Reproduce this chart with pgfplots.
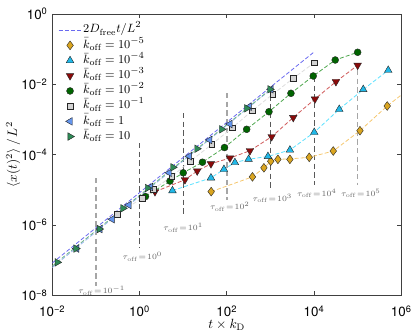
\documentclass[border=0pt]{standalone}
\usepackage{fontspec}
\usepackage{pgfplots}
\pgfplotsset{compat=1.18}
\newfontfamily\hv{TeX Gyre Heros}
\newcommand{\tl}[1]{{\hv 10\textsuperscript{#1}}}

\definecolor{cOr}{HTML}{DAA520}
\definecolor{cCy}{HTML}{20B8E8}
\definecolor{cRd}{HTML}{8B0A0A}
\definecolor{cGn}{HTML}{006400}
\definecolor{cSq}{HTML}{D3D3D3}
\definecolor{cBl}{HTML}{6495ED}
\definecolor{cSg}{HTML}{2E8B57}
\definecolor{dOr}{HTML}{F5C76E}
\definecolor{dCy}{HTML}{5CE1FF}
\definecolor{dRd}{HTML}{D05A5A}
\definecolor{dGn}{HTML}{4CA64C}
\definecolor{dSq}{HTML}{DDDDDD}
\definecolor{dBl}{HTML}{9DB6F2}
\definecolor{dSg}{HTML}{6DB38A}
\definecolor{dFr}{HTML}{6A6AF0}

\pgfplotsset{
  dsh/.style={line width=0.6pt, dash pattern=on 3pt off 1.6pt, forget plot},
  vdark/.style={black!65, line width=0.6pt, dash pattern=on 4pt off 2.5pt, forget plot},
  vlight/.style={black!35, line width=1.2pt, dash pattern=on 4pt off 2.5pt, forget plot},
}

\begin{document}
\begin{tikzpicture}
\begin{axis}[
  scale only axis, width=261.75pt, height=211pt,
  xmode=log, ymode=log,
  xmin=1e-2, xmax=1e6, ymin=1e-8, ymax=1,
  xtick={1e-2,1,1e2,1e4,1e6},
  xticklabels={\tl{−2},\tl{0},\tl{2},\tl{4},\tl{6}},
  ytick={1e-8,1e-6,1e-4,1e-2,1},
  yticklabels={\tl{−8},\tl{−6},\tl{−4},\tl{−2},\tl{0}},
  xticklabel style={yshift=-4pt},
  minor tick length=0pt,
  tick align=inside, major tick length=3pt,
  axis line style={black!75, line width=0.6pt},
  tick style={black!75, line width=0.6pt},
  xlabel={$t\times k_{\mathrm{D}}$},
  ylabel={$\langle x(t)^2\rangle\,/\,L^2$},
  xlabel shift=-5pt,
  ylabel shift=-6pt,
  legend style={draw=none, fill=none, at={(0.005,0.98)}, anchor=north west,
    row sep=0pt, font=\fontsize{9.5}{11}\selectfont,
    nodes={text height=6.8pt, text depth=2.6pt, inner sep=1pt}},
  legend cell align=left,
]
% tau_off markers
\addplot[vlight] coordinates {(0.1,2.17e-5) (0.1,1.84e-8)};
\addplot[vdark]  coordinates {(1,2.14e-4) (1,2.21e-7)};
\addplot[vdark]  coordinates {(10,1.53e-3) (10,1.86e-6)};
\addplot[vlight] coordinates {(100,5.66e-3) (100,5.13e-6)};
\addplot[vdark]  coordinates {(1000,8.39e-3) (1000,9.86e-6)};
\addplot[vdark]  coordinates {(10000,1.61e-2) (10000,1.37e-5)};
\addplot[vlight] coordinates {(100000,2.55e-2) (100000,1.37e-5)};

% free diffusion
\addplot[dFr, line width=0.6pt, dash pattern=on 3pt off 1.6pt] coordinates {(1e-2,8.3e-8) (1e4,8.3e-2)};
\addlegendentry{$2D_{\mathrm{free}}t/L^2$}

% theory curves
\addplot[dsh, dOr] coordinates {(43.9,8.89e-6) (388,2.34e-5) (711,4.23e-5) (1019,6.50e-5) (1489,7.36e-5) (2805,7.6e-5) (7762,8.39e-5) (27610,1.27e-4) (113000,4.80e-4) (476400,2.42e-3) (1e6,4.97e-3)};
\addplot[dsh, dCy] coordinates {(5.69,9.48e-6) (43.4,2.19e-5) (86.1,3.83e-5) (153.8,5.97e-5) (316.7,7.41e-5) (879,8.91e-5) (2805,1.355e-4) (10120,4.32e-4) (37840,1.95e-3) (134300,7.13e-3) (502300,2.51e-2)};
\addplot[dsh, dRd] coordinates {(2.26,8.83e-6) (10.99,1.936e-5) (21.0,3.43e-5) (43.4,5.50e-5) (118.3,8.02e-5) (339.6,1.294e-4) (1069,3.24e-4) (3342,1.138e-3) (10500,3.82e-3) (31770,1.189e-2) (1e5,3.48e-2)};
\addplot[dsh, dGn] coordinates {(1.368,6.44e-6) (4.99,1.778e-5) (10.05,3.05e-5) (27.7,6.10e-5) (88.5,1.596e-4) (285.8,5.26e-4) (927,1.663e-3) (2958,5.56e-3) (9594,1.726e-2) (30620,4.92e-2) (1e5,8.15e-2)};
\addplot[dsh, dSq] coordinates {(0.312,2.01e-6) (1.138,5.85e-6) (2.065,1.033e-5) (5.46,2.39e-5) (14.72,6.59e-5) (45.0,1.941e-4) (133.7,5.83e-4) (383.7,1.778e-3) (1127,5.20e-3) (3342,1.483e-2) (10120,4.12e-2)};
\addplot[dsh, dBl] coordinates {(1e-2,6.2e-8) (1030,7.2e-3)};
\addplot[dsh, dSg] coordinates {(1e-2,6.8e-8) (1000,7.2e-3)};

% simulation data
\addplot[only marks, mark=diamond*, mark size=3.3pt, mark options={draw=black!85, line width=0.3pt, fill=cOr}] coordinates {(43.9,8.89e-6) (388,2.34e-5) (711,4.23e-5) (1019,6.50e-5) (1489,7.36e-5) (2805,7.36e-5) (7762,8.39e-5) (27610,1.27e-4) (113000,4.80e-4) (476400,2.42e-3)};
\addlegendentry{$\bar{k}_{\mathrm{off}}=10^{-5}$}
\addplot[only marks, mark=triangle*, mark size=3.3pt, mark options={draw=black!85, line width=0.3pt, fill=cCy}] coordinates {(5.69,9.48e-6) (43.4,2.19e-5) (86.1,3.83e-5) (153.8,5.97e-5) (316.7,7.41e-5) (879,8.91e-5) (2805,1.355e-4) (10120,4.32e-4) (37840,1.95e-3) (134300,7.13e-3) (502300,2.51e-2)};
\addlegendentry{$\bar{k}_{\mathrm{off}}=10^{-4}$}
\addplot[only marks, mark=triangle*, mark size=3.3pt, mark options={rotate=180, draw=black!85, line width=0.3pt, fill=cRd}] coordinates {(2.26,8.83e-6) (10.99,1.936e-5) (21.0,3.43e-5) (43.4,5.50e-5) (118.3,8.02e-5) (339.6,1.294e-4) (1069,3.24e-4) (3342,1.138e-3) (10500,3.82e-3) (31770,1.189e-2) (1e5,3.48e-2)};
\addlegendentry{$\bar{k}_{\mathrm{off}}=10^{-3}$}
\addplot[only marks, mark=*, mark size=2.6pt, mark options={draw=black!85, line width=0.3pt, fill=cGn}] coordinates {(1.368,6.44e-6) (4.99,1.778e-5) (10.05,3.05e-5) (27.7,6.10e-5) (88.5,1.596e-4) (285.8,5.26e-4) (927,1.663e-3) (2958,5.56e-3) (9594,1.726e-2) (30620,4.92e-2) (1e5,8.15e-2)};
\addlegendentry{$\bar{k}_{\mathrm{off}}=10^{-2}$}
\addplot[only marks, mark=square*, mark size=2.2pt, mark options={draw=black!85, line width=0.3pt, fill=cSq}] coordinates {(0.312,2.01e-6) (1.138,5.85e-6) (2.065,1.033e-5) (5.46,2.39e-5) (14.72,6.59e-5) (45.0,1.941e-4) (133.7,5.83e-4) (383.7,1.778e-3) (1127,5.20e-3) (3342,1.483e-2) (10120,4.12e-2)};
\addlegendentry{$\bar{k}_{\mathrm{off}}=10^{-1}$}
\addplot[only marks, mark=triangle*, mark size=3.3pt, mark options={rotate=90, draw=black!85, line width=0.3pt, fill=cBl}] coordinates {(3.62e-2,2.14e-7) (0.1239,7.67e-7) (0.237,1.459e-6) (0.573,3.70e-6) (1.782,1.202e-5) (4.81,3.06e-5) (13.96,9.04e-5) (40.6,2.61e-4) (118.3,7.43e-4) (327,2.31e-3) (1030,7.21e-3)};
\addlegendentry{$\bar{k}_{\mathrm{off}}=1$}
\addplot[only marks, mark=triangle*, mark size=3.3pt, mark options={rotate=-90, draw=black!85, line width=0.3pt, fill=cSg}] coordinates {(1.303e-2,8.67e-8) (3.49e-2,2.14e-7) (0.1194,7.67e-7) (0.417,2.98e-6) (1.521,1.125e-5) (5.83,4.37e-5) (20.75,1.476e-4) (76.4,5.26e-4) (285.8,2.08e-3) (977,7.21e-3)};
\addlegendentry{$\bar{k}_{\mathrm{off}}=10$}

% tau_off labels
\begin{scope}[every node/.style={text=black!60, font=\fontsize{6.5}{7}\selectfont, inner sep=0pt}]
\node at (axis cs:0.1355,1.35e-8) {$\tau_{\mathrm{off}}\!=\!10^{-1}$};
\node at (axis cs:1.167,1.25e-7) {$\tau_{\mathrm{off}}\!=\!10^{0}$};
\node at (axis cs:10.05,8.47e-7) {$\tau_{\mathrm{off}}\!=\!10^{1}$};
\node at (axis cs:118,3.31e-6) {$\tau_{\mathrm{off}}\!=\!10^{2}$};
\node at (axis cs:1114,5.73e-6) {$\tau_{\mathrm{off}}\!=\!10^{3}$};
\node at (axis cs:11670,7.94e-6) {$\tau_{\mathrm{off}}\!=\!10^{4}$};
\node at (axis cs:118900,7.94e-6) {$\tau_{\mathrm{off}}\!=\!10^{5}$};
\end{scope}
\coordinate (SW) at (rel axis cs:0,0);
\coordinate (NE) at (rel axis cs:1,1);
\end{axis}
\pgfresetboundingbox
\path ([xshift=-39.2pt,yshift=-29pt]SW) rectangle ([xshift=10.3pt,yshift=10.5pt]NE);
\end{tikzpicture}
\end{document}
